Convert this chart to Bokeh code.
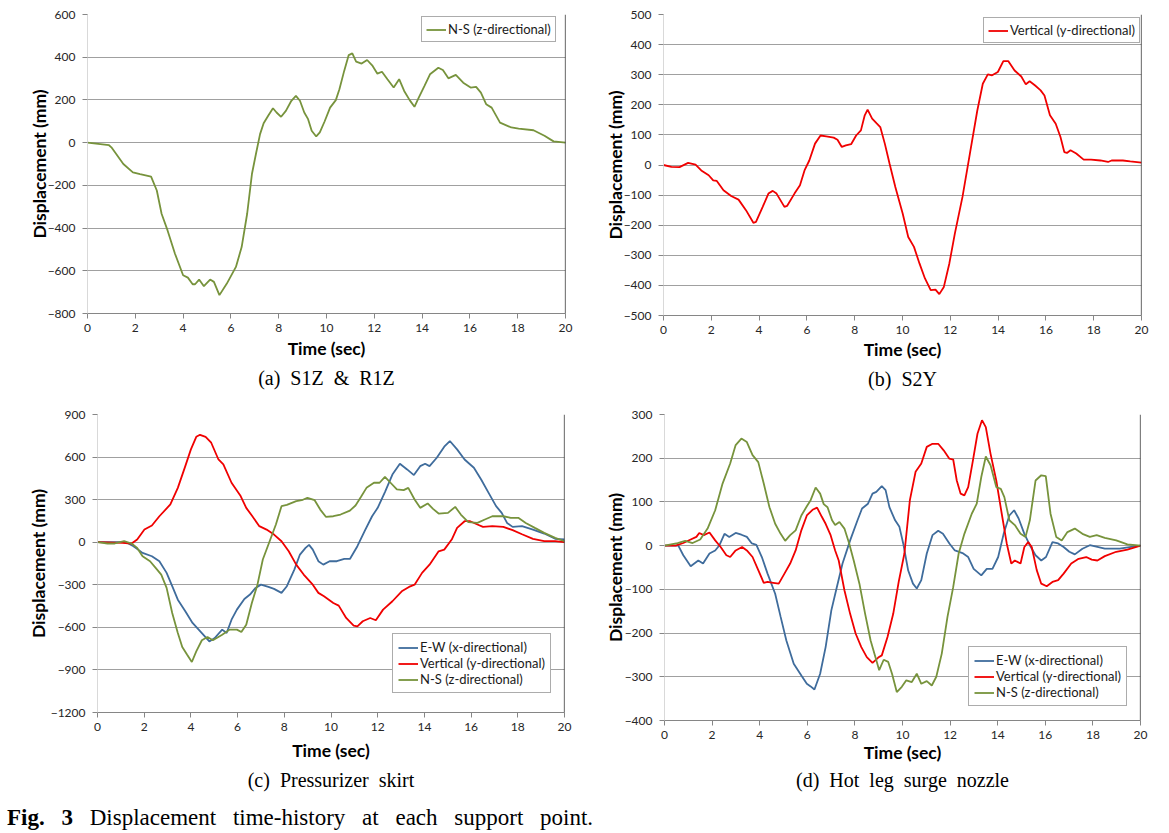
from bokeh.plotting import figure
from bokeh.models import Range1d, FixedTicker, Span, Title, Div
from bokeh.layouts import column, row
from bokeh.embed import file_html
from bokeh.resources import INLINE

GREEN = "#77933C"
RED = "#F00000"
BLUE = "#3F6C9C"

# ---------------- data ----------------
# (a) S1Z & R1Z : N-S (z-directional)
t_a = [0, 0.9, 1.0, 1.5, 1.9, 2.2, 2.66, 2.9, 3.1, 3.35, 3.66, 4.0, 4.2, 4.4, 4.5, 4.67, 4.87, 5.13, 5.29, 5.52,
       5.83, 6.21, 6.45, 6.68, 6.88, 7.06, 7.22, 7.37, 7.56, 7.76, 7.91, 8.1, 8.3, 8.53, 8.72, 8.89, 9.07, 9.23, 9.38, 9.57,
       9.72, 9.92, 10.15, 10.39, 10.54, 10.74, 10.93, 11.08, 11.24, 11.47, 11.7, 11.93, 12.13, 12.32, 12.55, 12.81, 13.04, 13.25, 13.48, 13.68,
       13.86, 14.1, 14.33, 14.68, 14.87, 15.1, 15.41, 15.72, 16.03, 16.26, 16.46, 16.68, 16.91, 17.26, 17.73, 18.04, 18.66, 19.12, 19.5, 20]
ns_a = [0, -12, -22, -100, -139, -147, -159, -224, -333, -411, -520, -621, -632, -663, -663, -641, -672, -641, -652, -714,
        -660, -582, -489, -333, -147, -46, 40, 91, 126, 161, 141, 121, 149, 196, 219, 196, 141, 110, 56, 29,
        48, 99, 164, 199, 250, 336, 410, 418, 379, 370, 387, 359, 323, 332, 297, 258, 297, 242, 199, 168,
        211, 266, 320, 351, 340, 301, 317, 281, 258, 261, 234, 180, 164, 94, 71, 66, 58, 32, 6, 0]

# (b) S2Y : Vertical (y-directional)
t_b = [0, 0.33, 0.67, 1.03, 1.34, 1.58, 1.89, 2.08, 2.23, 2.51, 2.83, 3.14, 3.45, 3.76, 3.87, 4.15, 4.39, 4.57, 4.73, 5.06,
       5.17, 5.48, 5.71, 5.9, 6.1, 6.34, 6.57, 6.81, 7.12, 7.28, 7.46, 7.63, 7.85, 8.06, 8.26, 8.42, 8.54, 8.73, 8.91, 9.07,
       9.26, 9.46, 9.7, 10.01, 10.24, 10.48, 10.71, 10.94, 11.18, 11.38, 11.54, 11.73, 11.96, 12.19, 12.51, 12.82, 13.13, 13.36, 13.57, 13.75,
       13.99, 14.22, 14.43, 14.69, 14.97, 15.16, 15.32, 15.55, 15.78, 15.94, 16.17, 16.41, 16.61, 16.77, 16.88, 17.03, 17.27, 17.58, 17.89, 18.28,
       18.6, 18.75, 19.22, 19.53, 20]
vert_b = [0, -6, -7, 7, 1, -18, -34, -51, -53, -84, -103, -115, -150, -192, -189, -139, -95, -86, -95, -139,
          -136, -95, -67, -18, 15, 71, 98, 95, 91, 84, 60, 65, 69, 98, 115, 165, 184, 154, 139, 126,
          71, 4, -73, -162, -239, -272, -327, -377, -416, -414, -429, -405, -327, -228, -106, 38, 181, 270, 301, 298,
          309, 345, 345, 314, 294, 268, 278, 264, 248, 231, 165, 137, 93, 43, 40, 49, 38, 18, 18, 15,
          10, 15, 15, 12, 8]

# (c) Pressurizer skirt
t_c_ew = [0, 0.59, 1.22, 1.54, 1.93, 2.33, 2.65, 2.96, 3.2, 3.44, 3.76, 4.07, 4.47, 4.79, 5.02, 5.34, 5.53, 5.74, 5.97, 6.29,
          6.53, 6.77, 7.0, 7.32, 7.56, 7.88, 8.11, 8.43, 8.67, 8.91, 9.06, 9.22, 9.46, 9.67, 9.94, 10.25, 10.57, 10.81, 11.13, 11.44,
          11.76, 12.0, 12.31, 12.63, 12.95, 13.26, 13.55, 13.82, 14.03, 14.22, 14.53, 14.85, 15.09, 15.4, 15.72, 16.12, 16.43, 16.75, 17.07, 17.31,
          17.54, 17.78, 18.18, 18.65, 19.13, 19.6, 20]
ew_c = [0, 0, 0, -28, -75, -99, -134, -216, -310, -405, -487, -569, -640, -699, -675, -616, -640, -546, -475, -400,
        -369, -322, -299, -315, -329, -357, -310, -193, -87, -40, -19, -52, -134, -158, -134, -134, -118, -118, -28, 78,
        183, 242, 353, 477, 553, 513, 473, 536, 553, 536, 595, 673, 713, 654, 583, 525, 442, 348, 254, 207,
        136, 108, 113, 89, 61, 24, 19]
t_c_v = [0, 1.06, 1.46, 1.7, 2.01, 2.33, 2.65, 3.12, 3.44, 3.76, 4.0, 4.23, 4.39, 4.63, 4.87, 5.18, 5.39, 5.74, 6.13, 6.37,
         6.61, 6.93, 7.24, 7.56, 7.88, 8.19, 8.51, 8.83, 9.22, 9.46, 9.7, 10.1, 10.33, 10.65, 10.97, 11.13, 11.36, 11.68, 11.92, 12.23,
         12.63, 13.03, 13.34, 13.58, 13.9, 14.22, 14.61, 14.85, 15.17, 15.4, 15.72, 15.96, 16.27, 16.51, 16.91, 17.38, 17.78, 18.18, 18.65, 19.13,
         19.6, 20]
vert_c = [0, -5, -9, 19, 89, 118, 183, 266, 383, 536, 654, 743, 757, 743, 701, 583, 548, 419, 325, 242,
          188, 113, 89, 54, 7, -64, -158, -228, -299, -357, -381, -428, -447, -534, -588, -593, -557, -534, -550, -475,
          -416, -346, -315, -299, -216, -158, -64, -52, 19, 101, 148, 148, 125, 108, 113, 108, 85, 56, 24, 7,
          7, 0]
t_c_ns = [0, 0.43, 0.74, 1.14, 1.46, 1.7, 1.93, 2.25, 2.49, 2.73, 2.96, 3.2, 3.44, 3.63, 3.84, 4.04, 4.23, 4.47, 4.71, 4.94,
          5.34, 5.66, 5.97, 6.16, 6.37, 6.61, 6.85, 7.08, 7.4, 7.64, 7.88, 8.11, 8.51, 8.75, 8.99, 9.3, 9.54, 9.78, 10.1, 10.41,
          10.81, 11.05, 11.28, 11.52, 11.84, 12.08, 12.31, 12.55, 12.82, 13.11, 13.31, 13.58, 13.82, 14.14, 14.37, 14.61, 15.01, 15.32, 15.56, 15.88,
          16.27, 16.59, 16.91, 17.38, 17.7, 18.02, 18.34, 18.73, 19.13, 19.6, 20]
ns_c = [0, -9, -9, 7, -9, -40, -99, -134, -181, -228, -322, -499, -640, -739, -793, -844, -769, -691, -668, -691,
        -652, -616, -616, -633, -581, -428, -299, -122, 19, 125, 254, 263, 289, 296, 313, 296, 230, 179, 183, 195,
        223, 259, 318, 383, 419, 419, 461, 419, 372, 367, 383, 301, 242, 273, 235, 202, 207, 249, 195, 141,
        136, 160, 183, 183, 172, 172, 136, 101, 66, 31, 7]

# (d) Hot leg surge nozzle
t_d_ew = [0, 0.58, 0.79, 1.1, 1.42, 1.62, 1.89, 2.13, 2.31, 2.52, 2.72, 2.99, 3.23, 3.46, 3.67, 3.86, 4.09, 4.33, 4.65, 4.88,
          5.12, 5.43, 5.75, 5.98, 6.14, 6.3, 6.54, 6.77, 7.01, 7.24, 7.48, 7.8, 8.11, 8.3, 8.55, 8.74, 8.9, 9.13, 9.29, 9.45,
          9.69, 9.87, 10.03, 10.24, 10.44, 10.6, 10.79, 11.02, 11.26, 11.5, 11.7, 11.97, 12.2, 12.52, 12.76, 12.99, 13.31, 13.54, 13.78, 14.02,
          14.25, 14.49, 14.69, 14.88, 15.12, 15.35, 15.59, 15.83, 16.03, 16.3, 16.54, 16.77, 17.01, 17.24, 17.56, 17.87, 18.19, 18.5, 19.13, 19.61,
          20]
ew_d = [0, 0, -22, -47, -34, -41, -18, -11, 1, 27, 20, 29, 25, 20, 5, 2, -26, -64, -110, -163,
        -217, -270, -297, -316, -322, -329, -293, -232, -148, -95, -41, 12, 58, 85, 96, 119, 123, 136, 127, 88,
        58, 43, 5, -57, -87, -98, -79, -18, 24, 34, 27, 5, -11, -17, -26, -53, -68, -53, -53, -26,
        27, 69, 81, 62, 27, 1, -22, -34, -26, 8, 5, -3, -14, -20, -7, 1, -3, -7, -7, -3,
        0]
t_d_v = [0, 0.47, 0.79, 1.1, 1.34, 1.46, 1.65, 1.89, 2.13, 2.36, 2.6, 2.76, 2.99, 3.26, 3.46, 3.7, 3.94, 4.17, 4.33, 4.57,
         4.8, 5.04, 5.28, 5.51, 5.75, 5.98, 6.22, 6.41, 6.61, 6.77, 6.98, 7.17, 7.32, 7.56, 7.8, 8.03, 8.27, 8.5, 8.74, 8.98,
         9.13, 9.37, 9.61, 9.84, 10.08, 10.31, 10.55, 10.79, 11.02, 11.26, 11.5, 11.73, 11.97, 12.13, 12.28, 12.44, 12.6, 12.76, 12.96, 13.15,
         13.34, 13.5, 13.7, 13.94, 14.17, 14.38, 14.57, 14.72, 14.96, 15.12, 15.28, 15.43, 15.64, 15.83, 16.06, 16.3, 16.54, 16.77, 17.09, 17.4,
         17.72, 17.95, 18.19, 18.5, 18.98, 19.45, 20]
vert_d = [0, 0, 6, 14, 20, 29, 24, 30, 12, -3, -22, -26, -11, -3, -11, -26, -56, -85, -83, -85,
          -87, -64, -41, -11, 35, 69, 82, 87, 66, 50, 24, -11, -34, -102, -156, -201, -232, -255, -268, -256,
          -251, -209, -156, -83, -18, 104, 169, 188, 226, 233, 233, 218, 199, 197, 149, 119, 115, 134, 195, 256,
          287, 271, 210, 149, 73, 5, -41, -34, -41, -3, 8, -3, -56, -87, -93, -83, -79, -64, -41, -30,
          -26, -32, -34, -24, -14, -9, 0]
t_d_ns = [0, 0.55, 0.87, 1.18, 1.5, 1.81, 2.13, 2.44, 2.76, 2.99, 3.23, 3.46, 3.7, 3.94, 4.17, 4.41, 4.65, 4.88, 5.07, 5.28,
          5.51, 5.75, 5.98, 6.14, 6.35, 6.54, 6.69, 6.85, 7.04, 7.17, 7.35, 7.56, 7.76, 7.95, 8.19, 8.43, 8.66, 8.9, 9.02, 9.21,
          9.4, 9.56, 9.76, 9.97, 10.16, 10.39, 10.6, 10.79, 11.02, 11.23, 11.42, 11.65, 11.89, 12.13, 12.36, 12.6, 12.91, 13.12, 13.31, 13.5,
          13.7, 13.94, 14.13, 14.28, 14.49, 14.72, 14.96, 15.17, 15.35, 15.59, 15.83, 16.02, 16.22, 16.46, 16.69, 16.93, 17.24, 17.56, 17.87, 18.16,
          18.5, 18.98, 19.45, 20]
ns_d = [0, 6, 11, 6, 14, 39, 81, 142, 188, 230, 245, 237, 207, 191, 142, 88, 50, 27, 11, 24,
        35, 69, 90, 104, 133, 119, 95, 88, 58, 47, 54, 39, 5, -34, -87, -156, -217, -262, -285, -261,
        -266, -293, -335, -323, -308, -312, -293, -316, -310, -320, -300, -247, -163, -95, -18, 27, 73, 96, 157, 204,
        184, 134, 130, 111, 58, 47, 27, 20, 58, 149, 161, 159, 73, 20, 12, 31, 39, 27, 20, 24,
        18, 12, 3, 0]

x_ticks = [0, 2, 4, 6, 8, 10, 12, 14, 16, 18, 20]
y_ticks_a = [-800, -600, -400, -200, 0, 200, 400, 600]
y_ticks_b = [-500, -400, -300, -200, -100, 0, 100, 200, 300, 400, 500]
y_ticks_c = [-1200, -900, -600, -300, 0, 300, 600, 900]
y_ticks_d = [-400, -300, -200, -100, 0, 100, 200, 300]

LBL_EW = "E-W (x-directional)"
LBL_V = "Vertical (y-directional)"
LBL_NS = "N-S (z-directional)"

SANS = "Lato"
SERIF = "Liberation Serif"
NB = "\u00a0"


def make_panel(yticks, bl, fw, br, bt, fh, bb, caption, cap_off, cap_standoff, xlab_standoff, ylab_standoff):
    p = figure(frame_width=fw, frame_height=fh, min_border_left=bl, min_border_right=br,
               min_border_top=bt, min_border_bottom=bb,
               x_range=Range1d(0, 20), y_range=Range1d(yticks[0], yticks[-1]),
               output_backend="svg", toolbar_location=None, tools="")
    p.outline_line_color = None
    p.background_fill_color = "white"
    p.border_fill_color = "white"
    p.xgrid.visible = False
    p.ygrid.grid_line_color = "#A0A0A0"
    p.ygrid.grid_line_width = 1

    xa = p.xaxis[0]
    xa.ticker = FixedTicker(ticks=x_ticks)
    xa.minor_tick_line_color = None
    xa.major_tick_in = 0
    xa.major_tick_out = 5
    xa.axis_line_color = "#868686"
    xa.major_tick_line_color = "#868686"
    xa.major_label_text_font = SANS
    xa.major_label_text_font_size = "12px"
    xa.major_label_text_color = "#262626"
    xa.major_label_standoff = 5
    xa.axis_label = "Time (sec)"
    xa.axis_label_text_font = SANS
    xa.axis_label_text_font_size = "17.5px"
    xa.axis_label_text_font_style = "bold"
    xa.axis_label_text_color = "black"
    xa.axis_label_standoff = xlab_standoff

    ya = p.yaxis[0]
    ya.ticker = FixedTicker(ticks=yticks)
    ya.minor_tick_line_color = None
    ya.major_tick_in = 0
    ya.major_tick_out = 5
    ya.axis_line_color = "#D9D9D9"
    ya.major_tick_line_color = "#868686"
    ya.major_label_text_font = SANS
    ya.major_label_text_font_size = "12px"
    ya.major_label_text_color = "#262626"
    ya.major_label_standoff = 7
    ya.axis_label = "Displacement (mm)"
    ya.axis_label_text_font = SANS
    ya.axis_label_text_font_size = "17.5px"
    ya.axis_label_text_font_style = "bold"
    ya.axis_label_text_color = "black"
    ya.axis_label_standoff = ylab_standoff

    p.add_layout(Span(location=20, dimension="height", line_color="black", line_width=1.2))
    p.add_layout(Title(text=caption, align="center", text_font=SERIF, text_font_size="20px",
                       text_font_style="normal", text_color="black", offset=cap_off,
                       standoff=cap_standoff), "below")
    return p


def style_legend(p, loc, pad, lh):
    lg = p.legend[0]
    lg.location = loc
    lg.margin = 0
    lg.padding = pad
    lg.spacing = 0
    lg.label_height = lh
    lg.glyph_height = lh
    lg.glyph_width = 20
    lg.label_standoff = 2
    lg.label_text_font = SANS
    lg.label_text_font_size = "13px"
    lg.label_text_color = "#1a1a1a"
    lg.border_line_color = "#595959"
    lg.border_line_width = 1
    lg.background_fill_color = "white"
    lg.background_fill_alpha = 1.0


LW = 1.8

# (a)
pa = make_panel(y_ticks_a, 87, 478, 15, 14, 299, 80,
                "(a)" + NB + " S1Z" + NB + " &" + NB + " R1Z", -27, 6, 3, -5)
pa.line(t_a, ns_a, line_color=GREEN, line_width=LW, legend_label=LBL_NS)
style_legend(pa, (334, 271), 4, 13)

# (b)
pb = make_panel(y_ticks_b, 83, 478, 20, 14, 301, 78,
                "(b)" + NB + " S2Y", -26, 6, 2, -5)
pb.line(t_b, vert_b, line_color=RED, line_width=LW, legend_label=LBL_V)
style_legend(pb, (320, 272), 4, 13)

# (c)
pc = make_panel(y_ticks_c, 97, 467, 16, 21, 298, 86,
                "(c)" + NB + " Pressurizer" + NB + " skirt", -31, 7, 6, -1)
pc.line(t_c_ew, ew_c, line_color=BLUE, line_width=LW, legend_label=LBL_EW)
pc.line(t_c_v, vert_c, line_color=RED, line_width=LW, legend_label=LBL_V)
pc.line(t_c_ns, ns_c, line_color=GREEN, line_width=LW, legend_label=LBL_NS)
style_legend(pc, (295, 19), 5, 15)

# (d)
pd = make_panel(y_ticks_d, 84, 476, 21, 19, 306, 80,
                "(d)" + NB + " Hot" + NB + " leg" + NB + " surge" + NB + " nozzle", -25, 3, 0, -4)
pd.line(t_d_ew, ew_d, line_color=BLUE, line_width=LW, legend_label=LBL_EW)
pd.line(t_d_v, vert_d, line_color=RED, line_width=LW, legend_label=LBL_V)
pd.line(t_d_ns, ns_d, line_color=GREEN, line_width=LW, legend_label=LBL_NS)
style_legend(pd, (304, 14), 5, 15)

cap = Div(text=("<div style=\"font-family:'Liberation Serif',serif;font-size:23px;line-height:24px;"
                "padding-top:3px;padding-left:2px;white-space:nowrap;word-spacing:11px;color:black\">"
                "<b>Fig. 3</b> Displacement time-history at each support point.</div>"),
          width=1150, height=28)

layout = column(row(pa, pb), row(pc, pd), cap)

open("out.html", "w").write(file_html(layout, INLINE))
